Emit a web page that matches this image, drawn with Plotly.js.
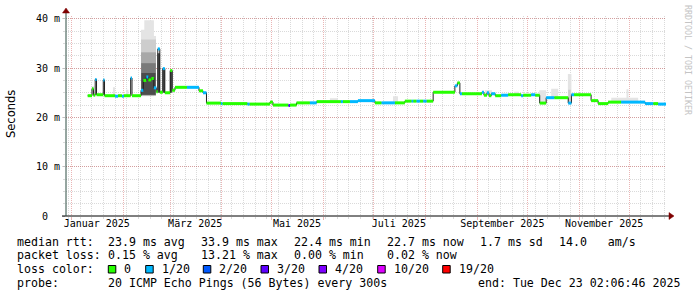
<!DOCTYPE html>
<html><head><meta charset="utf-8">
<script src="https://cdn.plot.ly/plotly-3.0.1.min.js"></script>
<style>html,body{margin:0;padding:0;background:#fff;} #chart{width:697px;height:297px;}</style>
</head><body><div id="chart"></div>
<script>
// ---- median rtt segments (start time, median ms, loss level index) ----
const segStart = [
 '2025-01-10 14:00','2025-01-13 04:00','2025-01-14 01:00','2025-01-15 02:00','2025-01-15 21:00',
 '2025-01-19 22:00','2025-01-20 16:00','2025-01-26 22:00','2025-01-28 18:00','2025-01-31 03:00',
 '2025-02-01 07:00','2025-02-05 08:00','2025-02-06 03:00','2025-02-11 13:00','2025-02-12 22:00',
 '2025-02-14 17:00','2025-02-15 22:00','2025-02-17 17:00','2025-02-19 05:00','2025-02-20 17:00',
 '2025-02-21 14:00','2025-02-22 19:00','2025-02-24 14:00','2025-02-25 19:00','2025-03-01 01:00',
 '2025-03-02 06:00','2025-03-03 21:00','2025-03-11 01:00','2025-03-18 06:00','2025-03-20 16:00',
 '2025-03-22 18:00','2025-03-31 10:00','2025-04-01 07:00','2025-04-16 07:00','2025-04-17 12:00',
 '2025-04-29 19:00','2025-05-01 14:00','2025-05-10 21:00','2025-05-11 19:00','2025-05-15 17:00',
 '2025-05-23 17:00','2025-05-27 18:00','2025-06-11 07:00','2025-06-12 12:00','2025-06-16 17:00',
 '2025-06-21 12:00','2025-07-01 16:00','2025-07-05 16:00','2025-07-13 15:00','2025-07-19 15:00',
 '2025-07-23 16:00','2025-07-24 15:00','2025-07-26 15:00','2025-07-28 15:00','2025-07-30 15:00',
 '2025-08-01 15:00','2025-08-05 14:00','2025-08-18 14:00','2025-08-20 02:00','2025-08-21 14:00',
 '2025-08-22 19:00','2025-09-03 19:00','2025-09-05 00:00','2025-09-06 19:00','2025-09-08 00:00',
 '2025-09-09 10:00','2025-09-11 19:00','2025-09-15 08:00','2025-09-19 12:00','2025-09-27 07:00',
 '2025-09-28 12:00','2025-10-03 07:00','2025-10-05 17:00','2025-10-08 10:00','2025-10-12 07:00',
 '2025-10-17 03:00','2025-10-25 12:00','2025-10-27 10:00','2025-10-29 00:00','2025-11-08 05:00',
 '2025-11-12 10:00','2025-11-18 10:00','2025-11-26 05:00','2025-12-10 14:00','2025-12-15 10:00',
 '2025-12-18 10:00'
];
const segMedian = [
 24.4,25.8,24.5,27.7,24.6, 27.6,24.4,24.3,24.4,24.3,
 24.4,28.0,24.4,25.5,27.5, 28.2,27.6,27.9,26.0,25.2,
 33.9,25.1,29.9,25.0,29.5, 25.5,26.1,26.1,25.4,25.0,
 22.9,22.8,22.8,22.7,22.7, 23.1,22.5,22.4,22.5,22.95,
 22.95,23.2,23.2,23.2,23.2, 23.4,22.95,22.95,22.95,23.3,
 23.3,23.3,23.3,23.3,23.3, 23.3,25.1,26.4,27.0,24.8,
 24.8,25.1,24.5,25.0,24.4, 24.8,24.4,24.5,24.6,24.4,
 24.5,24.6,24.5,22.9,24.0, 24.0,22.9,24.6,24.6,23.4,
 22.8,23.1,23.1,22.8,22.8, 22.7
];
const segLoss = [
 0,0,0,1,0, 1,0,1,0,1,
 0,1,0,1,0, 1,0,0,1,0,
 1,0,1,0,0, 0,0,1,0,1,
 0,1,0,1,0, 0,0,3,0,0,
 1,0,1,0,1, 1,0,1,0,0,
 1,0,1,0,1, 0,0,1,0,1,
 0,1,0,1,0, 1,0,1,0,1,
 0,1,0,0,1, 0,1,1,0,0,
 0,0,1,1,0, 1
];
const seriesEnd = '2025-12-23 02:06:46';
const rangeStart = '2024-12-28 14:00';

// ---- smoke (ping distribution) patches ----
const smokeStart = ['2025-02-11 13:00','2025-02-13 12:00','2025-02-19 06:00','2025-02-11 13:00','2025-02-11 13:00','2025-02-11 15:00','2025-02-11 18:00',
 '2025-02-21 10:00','2025-02-24 10:00','2025-02-28 20:00','2025-01-13 00:00','2025-01-25 17:00','2025-02-02 12:00',
 '2025-06-04 17:00','2025-07-12 12:00','2025-09-05 14:00','2025-09-23 00:00','2025-10-08 02:00','2025-10-15 07:00',
 '2025-10-25 07:00','2025-10-25 12:00','2025-11-20 07:00','2025-11-29 10:00'];
const smokeEnd = ['2025-02-13 12:00','2025-02-19 06:00','2025-02-20 12:00','2025-02-20 12:00','2025-02-20 12:00','2025-02-20 09:00','2025-02-20 06:00',
 '2025-02-22 22:00','2025-02-25 22:00','2025-03-02 06:00','2025-01-14 12:00','2025-01-26 22:00','2025-02-04 00:00',
 '2025-06-09 12:00','2025-07-15 12:00','2025-09-09 19:00','2025-09-26 00:00','2025-10-12 07:00','2025-10-19 12:00',
 '2025-10-27 10:00','2025-10-27 00:00','2025-12-06 10:00','2025-11-30 14:00'];
const smokeLow  = [24.3,24.3,24.5,24.4,24.5,24.5,24.6, 25.0,25.0,25.0,24.6,24.5,24.5, 23.2,22.95,24.5,24.5,22.9,24.0, 22.9,23.1,23.1,23.1];
const smokeHigh = [37.8,39.7,36.5,35.8,33.2,31.0,29.0, 33.0,29.8,29.4,26.3,26.1,25.6, 23.9,24.3,25.5,25.2,25.5,25.8, 28.8,25.6,24.0,25.7];
const smokeBand = [0,0,0,1,2,3,4, 4,4,4,0,0,0, 0,0,0,0,0,0, 0,1,0,0];

const lossLabels = ['0','1/20','2/20','3/20','4/20','10/20','19/20'];
const lossColors = ['#26ff00','#00b8ff','#0059ff','#5e00ff','#7e00ff','#dd00ff','#ff0000'];
const smokeShades = ['#e4e4e4','#cdcdcd','#a8a8a8','#7a7a7a','#4c4c4c'];

const monthLabels = ['Januar 2025','März 2025','Mai 2025','Juli 2025','September 2025','November 2025'];
const monthLabelPos = ['2025-01-16','2025-03-16','2025-05-16','2025-07-16','2025-09-16','2025-11-16'];

const yTickVals = [0,10,20,30,40];
const yTickText = ['0\u00a0\u00a0','10 m','20 m','30 m','40 m'];

const statsRtt = ['23.9 ms avg','33.9 ms max','22.4 ms min','22.7 ms now','1.7 ms sd','14.0   am/s'];
const statsLoss = ['0.15 % avg','13.21 % max','0.00 % min','0.02 % now'];
const probeText = '20 ICMP Echo Pings (56 Bytes) every 300s';
const endText = 'end: Tue Dec 23 02:06:46 2025';

// ---- geometry helpers (pixel -> paper) ----
const L = 66, T = 16, W = 600, H = 200;
const px = x => (x - L) / W;
const py = y => (T + H - y) / H;

const traces = [];
// smoke layers
for (let b = 0; b < smokeShades.length; b++) {
  const x = [], y = [];
  smokeStart.forEach((s, i) => {
    if (smokeBand[i] !== b) return;
    const e = smokeEnd[i];
    x.push(s, e, e, s, s, null);
    y.push(smokeLow[i], smokeLow[i], smokeHigh[i], smokeHigh[i], smokeLow[i], null);
  });
  traces.push({type:'scatter', mode:'lines', x, y, fill:'toself', fillcolor:smokeShades[b],
    line:{width:0, color:smokeShades[b]}, hoverinfo:'skip', showlegend:false});
}
// thin median line
traces.push({type:'scatter', mode:'lines', x: segStart.concat([seriesEnd]),
  y: segMedian.concat([segMedian[segMedian.length-1]]), line:{shape:'hv', color:'#202020', width:1},
  hoverinfo:'skip', showlegend:false});
// loss-coloured median bands
for (let l = 0; l < lossColors.length; l++) {
  const x = [], y = [];
  segStart.forEach((s, i) => {
    if (segLoss[i] !== l) return;
    const e = i + 1 < segStart.length ? segStart[i+1] : seriesEnd;
    x.push(s, e, null); y.push(segMedian[i], segMedian[i], null);
  });
  if (x.length) traces.push({type:'scatter', mode:'lines', x, y, xaxis:'x2',
    line:{color:lossColors[l], width:3}, hoverinfo:'skip', showlegend:false});
}

const mono = 'DejaVu Sans Mono, monospace';
const annotations = [];
const shapes = [];
const txt = (x, y, text, extra) => annotations.push(Object.assign({xref:'paper', yref:'paper',
  x: px(x), y: py(y), xanchor:'left', yanchor:'middle', text, showarrow:false, borderpad:0,
  font:{family:mono, size:11.6, color:'#000'}}, extra || {}));

const cols = [107.3, 200, 293.3, 386, 479.3, 558.3];
txt(16, 241.5, 'median rtt:');
statsRtt.forEach((s, i) => txt(cols[i], 241.5, s));
txt(16, 255.3, 'packet loss:');
statsLoss.forEach((s, i) => txt(cols[i], 255.3, s));
txt(16, 269, 'loss color:');
const boxX = [108.3, 145.7, 203.3, 261, 319, 377.7, 442.7];
lossLabels.forEach((lab, i) => {
  shapes.push({type:'rect', xref:'paper', yref:'paper', x0:px(boxX[i]), x1:px(boxX[i]+7.5),
    y0:py(273), y1:py(265.5), fillcolor:lossColors[i], line:{color:'#000', width:1}});
  txt(boxX[i] + 15, 269, lab);
});
txt(16, 282.8, 'probe:');
txt(107.3, 282.8, probeText);
annotations.push({xref:'paper', yref:'paper', x:px(681), y:py(282.8), xanchor:'right', yanchor:'middle',
  text:endText, showarrow:false, borderpad:0, font:{family:mono, size:11.6, color:'#000'}});
// y axis title
annotations.push({xref:'paper', yref:'paper', x:px(11), y:py(114), xanchor:'center', yanchor:'middle',
  text:'Seconds', textangle:-90, showarrow:false, borderpad:0,
  font:{family:'DejaVu Sans, sans-serif', size:11.5, color:'#000'}});
// watermark
annotations.push({xref:'paper', yref:'paper', x:px(688), y:py(60), xanchor:'center', yanchor:'middle',
  text:'RRDTOOL / TOBI OETIKER', textangle:90, showarrow:false, borderpad:0,
  font:{family:mono, size:8.3, color:'#c4c4c4'}});

// axis lines and arrows
shapes.push({type:'line', xref:'paper', yref:'paper', x0:px(62), x1:px(670), y0:py(216), y1:py(216), line:{color:'#000', width:1}});
shapes.push({type:'line', xref:'paper', yref:'paper', x0:px(66), x1:px(66), y0:py(216), y1:py(11), line:{color:'#2c4d43', width:1}});
shapes.push({type:'path', xref:'paper', yref:'paper',
  path:`M ${px(669)} ${py(212.5)} L ${px(674)} ${py(216)} L ${px(669)} ${py(219.5)} Z`, fillcolor:'#7f0000', line:{color:'#7f0000', width:0.5}});
shapes.push({type:'path', xref:'paper', yref:'paper',
  path:`M ${px(62.5)} ${py(13)} L ${px(66)} ${py(8)} L ${px(69.5)} ${py(13)} Z`, fillcolor:'#7f0000', line:{color:'#7f0000', width:0.5}});

const mgrid = 'rgba(200,60,60,0.38)';
const grid = 'rgba(140,140,140,0.32)';
const layout = {
  width:697, height:297, margin:{l:L, r:697-L-W, t:T, b:297-T-H},
  paper_bgcolor:'#fff', plot_bgcolor:'#fff', showlegend:false,
  xaxis:{type:'date', range:[rangeStart, seriesEnd], tick0:'2025-01-01', dtick:'M1',
    showgrid:true, gridcolor:mgrid, griddash:'1px,1px', gridwidth:1,
    ticks:'outside', ticklen:3, tickcolor:mgrid, showticklabels:false, zeroline:false, showline:false,
    minor:{tick0:'2025-01-06', dtick:7*86400000, showgrid:true, gridcolor:grid, griddash:'1px,1px',
      ticks:'outside', ticklen:2, tickcolor:grid}, fixedrange:true},
  xaxis2:{type:'date', range:[rangeStart, seriesEnd], overlaying:'x', anchor:'y', side:'bottom',
    tickmode:'array', tickvals:monthLabelPos, ticktext:monthLabels, ticks:'', showgrid:false,
    zeroline:false, showline:false, tickfont:{family:mono, size:10, color:'#000'}, fixedrange:true},
  yaxis:{range:[0, 40.57], tickmode:'array', tickvals:yTickVals, ticktext:yTickText,
    showgrid:true, gridcolor:mgrid, griddash:'1px,1px', zeroline:false, showline:false,
    ticks:'outside', ticklen:3, tickcolor:grid, tickfont:{family:mono, size:10, color:'#000'},
    minor:{tickmode:'linear', tick0:0, dtick:2.5, showgrid:true, gridcolor:grid, griddash:'1px,1px',
      ticks:'outside', ticklen:2, tickcolor:grid}, fixedrange:true},
  annotations, shapes
};
Plotly.newPlot('chart', traces, layout, {displayModeBar:false, staticPlot:true});
</script></body></html>
